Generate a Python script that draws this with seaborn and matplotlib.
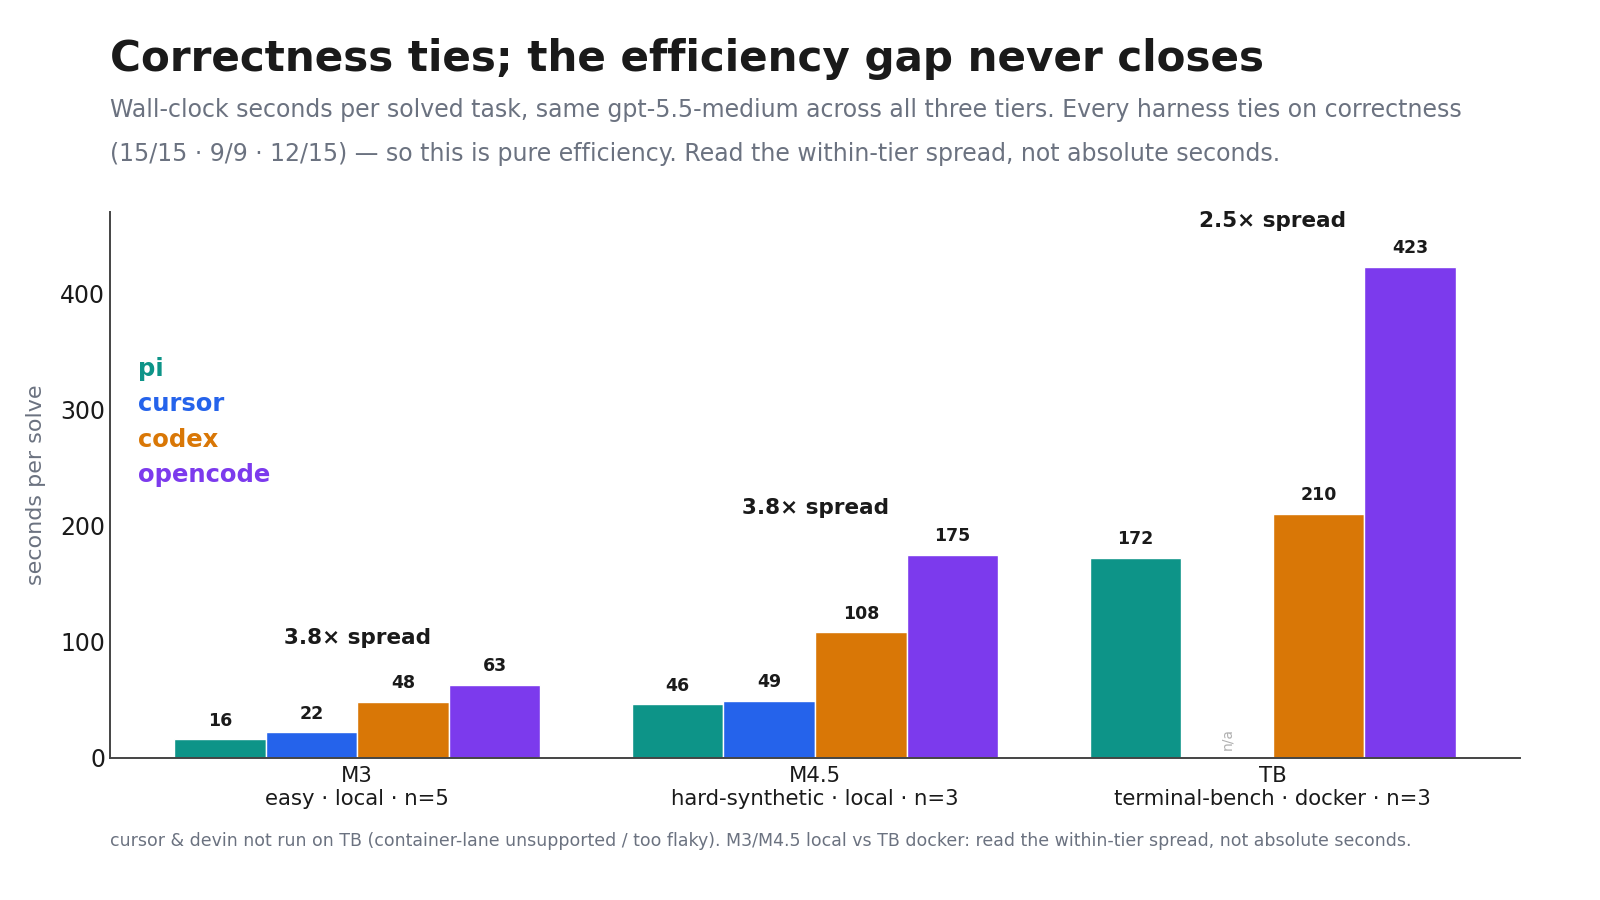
import pandas as pd
import matplotlib.pyplot as plt
import seaborn as sns

# ---------------------------------------------------------------
# data
# ---------------------------------------------------------------
tiers = ["M3", "M4.5", "TB"]
tier_labels = ["M3\neasy · local · n=5",
               "M4.5\nhard-synthetic · local · n=3",
               "TB\nterminal-bench · docker · n=3"]
harnesses = ["pi", "cursor", "codex", "opencode"]
colors = ["#0d9488", "#2563eb", "#d97706", "#7c3aed"]

pi_secs = [16, 46, 172]
cursor_secs = [22, 49, None]      # cursor not run on TB
codex_secs = [48, 108, 210]
opencode_secs = [63, 175, 423]
spread_labels = ["3.8× spread", "3.8× spread", "2.5× spread"]

TITLE = "Correctness ties; the efficiency gap never closes"
SUBTITLE = ("Wall-clock seconds per solved task, same gpt-5.5-medium across all three tiers. "
            "Every harness ties on correctness\n"
            "(15/15 · 9/9 · 12/15) — so this is pure efficiency. "
            "Read the within-tier spread, not absolute seconds.")
FOOTNOTE = ("cursor & devin not run on TB (container-lane unsupported / too flaky). "
            "M3/M4.5 local vs TB docker: read the within-tier spread, not absolute seconds.")

rows = []
for name, vals in zip(harnesses, [pi_secs, cursor_secs, codex_secs, opencode_secs]):
    for tier, v in zip(tiers, vals):
        if v is not None:
            rows.append({"tier": tier, "harness": name, "secs": v})
df = pd.DataFrame(rows)

# ---------------------------------------------------------------
# plot
# ---------------------------------------------------------------
sns.set_theme(style="white")
plt.rcParams["font.family"] = ["DejaVu Sans"]

fig = plt.figure(figsize=(16, 9), dpi=100)
ax = fig.add_axes([0.06875, 0.158, 0.88125, 0.606])

sns.barplot(data=df, x="tier", y="secs", hue="harness", order=tiers,
            hue_order=harnesses, palette=colors, saturation=1, width=0.8,
            ax=ax, edgecolor="white", linewidth=1, errorbar=None, legend=False)

for cont in ax.containers:
    ax.bar_label(cont, fmt="%d", padding=7, fontsize=12.5,
                 fontweight="bold", color="#1a1a1a")

# n/a marker for the missing cursor bar on TB
ax.text(2 - 0.1, 7, "n/a", rotation=90, ha="center", va="bottom",
        fontsize=10, color="#b0b0b0")

# spread annotation above each tier
tops = [max(v for v in vals if v is not None)
        for vals in zip(pi_secs, cursor_secs, codex_secs, opencode_secs)]
for i, (lab, top) in enumerate(zip(spread_labels, tops)):
    ax.text(i, top + 40, lab, ha="center", va="center", fontsize=15.5,
            fontweight="bold", color="#1a1a1a")

# coloured text legend
for k, (name, c) in enumerate(zip(harnesses, colors)):
    ax.text(0.02, 0.713 - k * 0.065, name, transform=ax.transAxes,
            fontsize=17.5, fontweight="bold", color=c, va="center")

ax.set_xlim(-0.54, 2.54)
ax.set_ylim(0, 470)
ax.set_yticks([0, 100, 200, 300, 400])
ax.set_xticks(range(len(tiers)))
ax.set_xticklabels(tier_labels, fontsize=15.3, color="#1a1a1a")
ax.tick_params(axis="y", labelsize=17, length=0, labelcolor="#1a1a1a")
ax.tick_params(axis="x", length=0, pad=6)
ax.set_xlabel("")
ax.set_ylabel("seconds per solve", fontsize=16, color="#6b7280", labelpad=10)

for side in ["top", "right"]:
    ax.spines[side].set_visible(False)
for side in ["left", "bottom"]:
    ax.spines[side].set_color("#444444")
    ax.spines[side].set_linewidth(1.4)

fig.text(0.06875, 0.935, TITLE, fontsize=30.3, fontweight="bold",
         color="#1a1a1a", va="center")
fig.text(0.06875, 0.853, SUBTITLE, fontsize=17, color="#6b7280",
         va="center", linespacing=2.05)
fig.text(0.06875, 0.066, FOOTNOTE, fontsize=12.5, color="#6b7280", va="center")

fig.savefig("out.png", dpi=100)
